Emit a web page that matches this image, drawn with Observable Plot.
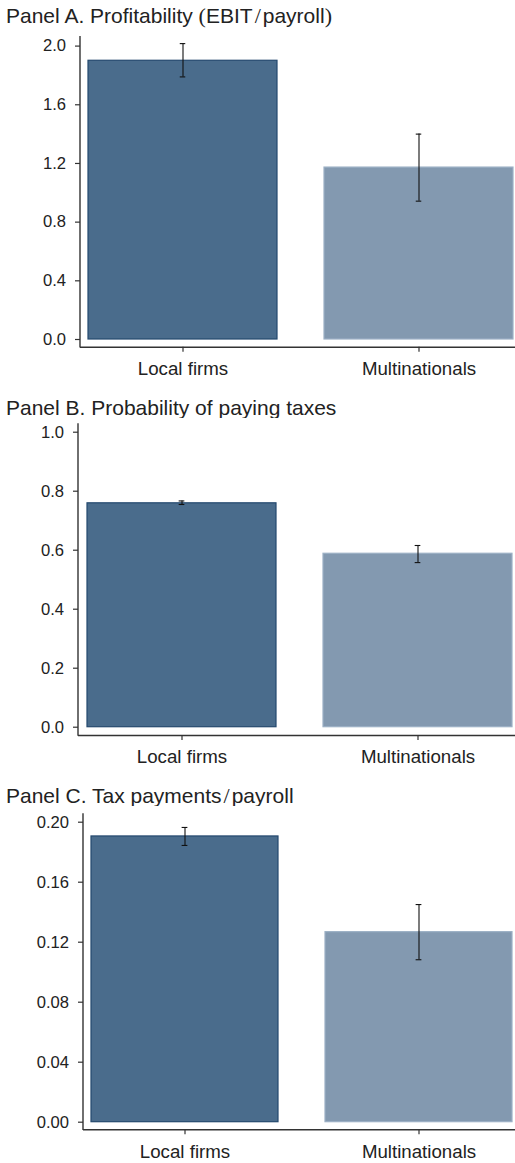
<!DOCTYPE html>
<html>
<head>
<meta charset="utf-8">
<script src="https://cdn.jsdelivr.net/npm/d3@7"></script>
<script src="https://cdn.jsdelivr.net/npm/@observablehq/plot@0.6"></script>
<style>
  html, body { margin: 0; padding: 0; background: #fff; }
  body { width: 515px; height: 1163px; position: relative; overflow: hidden; font-family: "Liberation Sans", Arial, Helvetica, sans-serif; }
  .title { position: absolute; left: 6px; font-size: 21px; line-height: 1; color: #222; white-space: nowrap; }
  .m { font-family: "Liberation Serif", "DejaVu Serif", serif; font-size: 22px; }
  .sl { margin: 0 2px; }
  .panel { position: absolute; left: 0; }
</style>
</head>
<body>
<div class="title" style="top:4.9px">Panel A. Profitability <span class="m">(</span>EBIT<span class="m sl">/</span>payroll<span class="m">)</span></div>
<div class="title" style="top:396.5px">Panel B. Probability of paying taxes</div>
<div class="title" style="top:784.9px">Panel C. Tax payments<span class="m sl">/</span>payroll</div>
<div id="pA" class="panel" style="top:30px"></div>
<div id="pB" class="panel" style="top:418px"></div>
<div id="pC" class="panel" style="top:806px"></div>
<script>
// ---- data ----
const categories = ["Local firms", "Multinationals"];

const profitability = [1.900, 1.172];
const profitabilityLow = [1.790, 0.943];
const profitabilityHigh = [2.017, 1.400];

const probPaying = [0.759, 0.588];
const probPayingLow = [0.755, 0.558];
const probPayingHigh = [0.767, 0.616];

const taxPayroll = [0.1905, 0.1267];
const taxPayrollLow = [0.1845, 0.1083];
const taxPayrollHigh = [0.1965, 0.1451];

const ticksA = [0, 0.4, 0.8, 1.2, 1.6, 2.0];
const ticksB = [0, 0.2, 0.4, 0.6, 0.8, 1.0];
const ticksC = [0, 0.04, 0.08, 0.12, 0.16, 0.20];

// ---- styles ----
const FILLS = ["#4a6c8c", "#8399b0"];
const STROKES = ["#24496e", "#9cb0c5"];
const AXIS = "#333333";
const TEXT = "#222222";

function panel(el, cfg, values, lows, highs, ticks, fmt) {
  const data = categories.map((c, i) => ({cat: c, v: values[i], lo: lows[i], hi: highs[i]}));
  const pi = 0.2;
  const bw = (cfg.xr[1] - cfg.xr[0]) / (categories.length - pi) * (1 - pi);
  const capInset = (bw - 6) / 2;
  const plot = Plot.plot({
    width: 515,
    height: cfg.h,
    marginLeft: cfg.ml,
    marginRight: 0,
    marginTop: cfg.mt,
    marginBottom: cfg.mb,
    x: {type: "band", domain: categories, range: cfg.xr, paddingInner: pi, paddingOuter: 0, align: 0.5},
    y: {domain: cfg.yd},
    style: {fontFamily: '"Liberation Sans", Arial, Helvetica, sans-serif', color: TEXT, background: "white", overflow: "visible"},
    marks: [
      ...categories.map((c, i) => Plot.barY(data.filter(d => d.cat === c), {x: "cat", y: "v", fill: FILLS[i], stroke: STROKES[i], strokeWidth: 1.2})),
      Plot.ruleX(data, {x: "cat", y1: "lo", y2: "hi", stroke: "#111", strokeWidth: 1.1}),
      Plot.tickY(data, {x: "cat", y: "lo", insetLeft: capInset, insetRight: capInset, stroke: "#111", strokeWidth: 1.1}),
      Plot.tickY(data, {x: "cat", y: "hi", insetLeft: capInset, insetRight: capInset, stroke: "#111", strokeWidth: 1.1}),
      Plot.ruleY([cfg.yd[0]], {stroke: AXIS, strokeWidth: 1.4}),
      Plot.axisY({ticks: ticks, tickFormat: d3.format(fmt), tickSize: 5, tickPadding: 9.5, fontSize: 16.6, label: null, stroke: AXIS, strokeWidth: 1.2}),
      Plot.axisX({tickSize: 5, tickPadding: 9.5, fontSize: 18.7, label: null, stroke: AXIS, strokeWidth: 1.2})
    ]
  });
  d3.select(plot).append("line")
    .attr("x1", cfg.ml).attr("x2", cfg.ml)
    .attr("y1", cfg.mt).attr("y2", cfg.h - cfg.mb + 0.7)
    .attr("stroke", AXIS).attr("stroke-width", 1.4);
  document.getElementById(el).appendChild(plot);
}

panel("pA", {h: 360, ml: 80, mt: 6, mb: 43.3, yd: [-0.0525, 2.0654], xr: [87.3, 513.7]},
  profitability, profitabilityLow, profitabilityHigh, ticksA, ".1f");
panel("pB", {h: 360, ml: 78, mt: 5.3, mb: 43, yd: [-0.0281, 1.0285], xr: [86.3, 512.3]},
  probPaying, probPayingLow, probPayingHigh, ticksB, ".1f");
panel("pC", {h: 357, ml: 83, mt: 7.3, mb: 33.7, yd: [-0.00507, 0.2056], xr: [91, 512.3]},
  taxPayroll, taxPayrollLow, taxPayrollHigh, ticksC, ".2f");
</script>
</body>
</html>
